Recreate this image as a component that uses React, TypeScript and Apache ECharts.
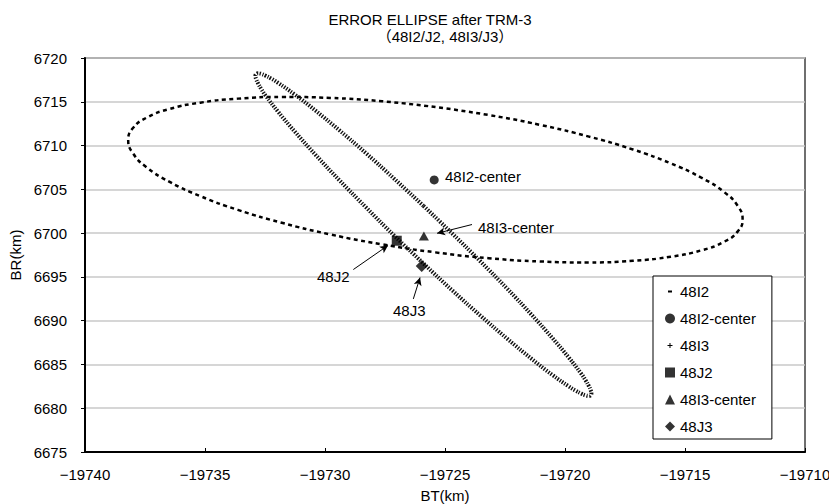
import React, { useEffect, useRef } from "react";
import * as echarts from "echarts";

// ---- data ----
const xMin = -19740;
const xMax = -19710;
const xStep = 5;
const yMin = 6675;
const yMax = 6720;
const yStep = 5;

// 48I2 error ellipse (BT, BR) in km
const ellipse48I2: [number, number][] = [
  [-19725.4, 6714.4], [-19727.62, 6715.06], [-19729.78, 6715.44], [-19731.8, 6715.55],
  [-19733.63, 6715.36], [-19735.2, 6714.9], [-19736.49, 6714.17], [-19737.43, 6713.19],
  [-19738.0, 6712.0], [-19738.2, 6710.62], [-19738.0, 6709.11], [-19737.43, 6707.51],
  [-19736.49, 6705.87], [-19735.2, 6704.23], [-19733.63, 6702.65], [-19731.8, 6701.18],
  [-19729.78, 6699.85], [-19727.62, 6698.72], [-19725.4, 6697.8], [-19723.18, 6697.14],
  [-19721.02, 6696.76], [-19719.0, 6696.65], [-19717.17, 6696.84], [-19715.6, 6697.3],
  [-19714.32, 6698.03], [-19713.37, 6699.01], [-19712.8, 6700.2], [-19712.6, 6701.58],
  [-19712.8, 6703.09], [-19713.37, 6704.69], [-19714.32, 6706.33], [-19715.6, 6707.97],
  [-19717.17, 6709.55], [-19719.0, 6711.02], [-19721.02, 6712.35], [-19723.18, 6713.49],
  [-19725.4, 6714.4],
];

// 48I3 error ellipse (BT, BR) in km
const ellipse48I3: [number, number][] = [
  [-19725.9, 6703.12], [-19727.12, 6706.22], [-19728.29, 6709.12], [-19729.4, 6711.74],
  [-19730.4, 6714.0], [-19731.26, 6715.83], [-19731.96, 6717.17], [-19732.24, 6717.65],
  [-19732.48, 6717.99], [-19732.66, 6718.19], [-19732.79, 6718.25], [-19732.87, 6718.17],
  [-19732.9, 6717.95], [-19732.87, 6717.6], [-19732.79, 6717.11], [-19732.66, 6716.48],
  [-19732.48, 6715.73], [-19731.96, 6713.88], [-19731.26, 6711.6], [-19730.4, 6708.96],
  [-19729.4, 6706.04], [-19728.29, 6702.93], [-19727.12, 6699.73], [-19725.9, 6696.54],
  [-19724.69, 6693.44], [-19723.51, 6690.54], [-19722.4, 6687.92], [-19721.4, 6685.66],
  [-19720.54, 6683.83], [-19719.84, 6682.49], [-19719.56, 6682.01], [-19719.32, 6681.67],
  [-19719.14, 6681.47], [-19719.01, 6681.41], [-19718.93, 6681.49], [-19718.9, 6681.71],
  [-19718.93, 6682.06], [-19719.01, 6682.55], [-19719.14, 6683.18], [-19719.32, 6683.93],
  [-19719.84, 6685.78], [-19720.54, 6688.06], [-19721.4, 6690.7], [-19722.4, 6693.62],
  [-19723.51, 6696.73], [-19724.69, 6699.93], [-19725.9, 6703.12],
];

const center48I2: [number, number] = [-19725.45, 6706.07];
const center48I3: [number, number] = [-19725.88, 6699.67];
const point48J2: [number, number] = [-19727.01, 6699.13];
const point48J3: [number, number] = [-19725.97, 6696.24];

// annotation arrows: [from, to] in data coordinates
const arrows: [number, number][][] = [
  [[-19723.875, 6700.98], [-19725.33, 6699.98]],
  [[-19728.82, 6695.84], [-19727.375, 6698.59]],
  [[-19726.32, 6692.48], [-19726.04, 6694.93]],
];

const legendNames = ["48I2", "48I2-center", "48I3", "48J2", "48I3-center", "48J3"];
const titleLine1 = "ERROR ELLIPSE after TRM-3";
const titleLine2 = "（48I2/J2, 48I3/J3）";
const xName = "BT(km)";
const yName = "BR(km)";

const FONT = "'Liberation Sans', 'Noto Sans CJK JP', Arial, sans-serif";
const corners = "M0,0h0.01v0.01h-0.01zM10,10h0.01v0.01h-0.01z";
const dashIcon = "path://" + corners + "M3,4h4v2h-4z";
const plusIcon = "path://" + corners + "M2.5,4.5h5v1h-5zM4.5,2.5h1v5h-1z";

const fmt = (v: number) => String(v).replace("-", "\u2212");

export default function App() {
  const ref = useRef<HTMLDivElement>(null);
  useEffect(() => {
    if (!ref.current) return;
    const chart = echarts.init(ref.current, undefined, { renderer: "svg" });
    chart.setOption({
      animation: false,
      backgroundColor: "#ffffff",
      textStyle: { fontFamily: FONT },
      grid: {
        left: 85,
        right: 24,
        top: 58,
        bottom: 52,
        outerBoundsMode: "none",
        containLabel: false,
        show: true,
        borderColor: "#404040",
        borderWidth: 1.5,
        backgroundColor: "transparent",
      },
      xAxis: {
        type: "value",
        min: xMin,
        max: xMax,
        interval: xStep,
        name: xName,
        nameLocation: "middle",
        nameGap: 36,
        nameTextStyle: { color: "#000", fontSize: 15, fontFamily: FONT },
        axisLine: { show: true, lineStyle: { color: "#000", width: 2 } },
        axisTick: { show: true, inside: true, length: 4, lineStyle: { color: "#000", width: 1 } },
        axisLabel: { color: "#000", fontSize: 15, fontFamily: FONT, margin: 15, formatter: fmt },
        splitLine: { show: false },
      },
      yAxis: {
        type: "value",
        min: yMin,
        max: yMax,
        interval: yStep,
        name: yName,
        nameLocation: "middle",
        nameGap: 54,
        nameTextStyle: { color: "#000", fontSize: 15, fontFamily: FONT },
        axisLine: { show: true, lineStyle: { color: "#000", width: 2 } },
        axisTick: { show: true, inside: false, length: 4, lineStyle: { color: "#000", width: 1 } },
        axisLabel: { color: "#000", fontSize: 15, fontFamily: FONT, margin: 18, formatter: fmt },
        splitLine: { show: true, lineStyle: { color: "#c8c8c8", width: 1.5 } },
      },
      legend: {
        orient: "vertical",
        left: 653,
        top: 276,
        itemWidth: 10,
        itemHeight: 10,
        itemGap: 12,
        padding: [8, 16, 5, 12],
        borderColor: "#000",
        borderWidth: 1,
        backgroundColor: "#fff",
        selectedMode: false,
        textStyle: { color: "#000", fontSize: 15, fontFamily: FONT, lineHeight: 15 },
        data: [
          { name: legendNames[0], icon: dashIcon },
          { name: legendNames[1], icon: "circle" },
          { name: legendNames[2], icon: plusIcon },
          { name: legendNames[3], icon: "rect" },
          { name: legendNames[4], icon: "triangle" },
          { name: legendNames[5], icon: "diamond" },
        ],
      },
      graphic: [
        {
          type: "text",
          x: 430,
          y: 19,
          style: { text: titleLine1, fill: "#000", font: `15px ${FONT}`, align: "center", verticalAlign: "middle" },
        },
        {
          type: "text",
          x: 445,
          y: 36,
          style: { text: titleLine2, fill: "#000", font: `15px ${FONT}`, align: "center", verticalAlign: "middle" },
        },
        {
          type: "text",
          x: 445,
          y: 176,
          z: 10,
          style: { text: legendNames[1], fill: "#000", font: `15px ${FONT}`, align: "left", verticalAlign: "middle" },
        },
        {
          type: "text",
          x: 478,
          y: 227.5,
          z: 10,
          style: { text: legendNames[4], fill: "#000", font: `15px ${FONT}`, align: "left", verticalAlign: "middle" },
        },
        {
          type: "text",
          x: 317,
          y: 276.5,
          z: 10,
          style: { text: legendNames[3], fill: "#000", font: `15px ${FONT}`, align: "left", verticalAlign: "middle" },
        },
        {
          type: "text",
          x: 393,
          y: 310,
          z: 10,
          style: { text: legendNames[5], fill: "#000", font: `15px ${FONT}`, align: "left", verticalAlign: "middle" },
        },
      ],
      series: [
        {
          name: legendNames[0],
          type: "line",
          data: ellipse48I2,
          smooth: true,
          showSymbol: false,
          symbol: "none",
          color: "#000",
          lineStyle: { color: "#000", width: 2.5, type: [4, 3.5], cap: "butt" },
          z: 3,
        },
        {
          name: legendNames[2],
          type: "line",
          data: ellipse48I3,
          smooth: true,
          showSymbol: false,
          symbol: "none",
          color: "#000",
          lineStyle: { color: "#111", width: 4, type: [1.4, 1.4], cap: "butt" },
          z: 3,
        },
        {
          name: legendNames[1],
          type: "scatter",
          data: [center48I2],
          symbol: "circle",
          symbolSize: 9,
          itemStyle: { color: "#000" },
          z: 5,
        },
        {
          name: legendNames[3],
          type: "scatter",
          data: [point48J2],
          symbol: "rect",
          symbolSize: 10,
          itemStyle: { color: "#000" },
          z: 5,
        },
        {
          name: legendNames[4],
          type: "scatter",
          data: [center48I3],
          symbol: "triangle",
          symbolSize: [10, 9],
          itemStyle: { color: "#000" },
          z: 5,
        },
        {
          name: legendNames[5],
          type: "scatter",
          data: [point48J3],
          symbol: "diamond",
          symbolSize: 12,
          itemStyle: { color: "#000" },
          z: 5,
          markLine: {
            silent: true,
            symbol: ["none", "arrow"],
            symbolSize: [6, 8],
            label: { show: false },
            lineStyle: { color: "#000", width: 1, type: "solid" },
            data: arrows.map((a) => [{ coord: a[0] }, { coord: a[1] }]),
          },
        },
      ],
    });
    return () => chart.dispose();
  }, []);
  return <div ref={ref} style={{ width: 829, height: 504, position: "absolute", left: 0, top: 0 }} />;
}
